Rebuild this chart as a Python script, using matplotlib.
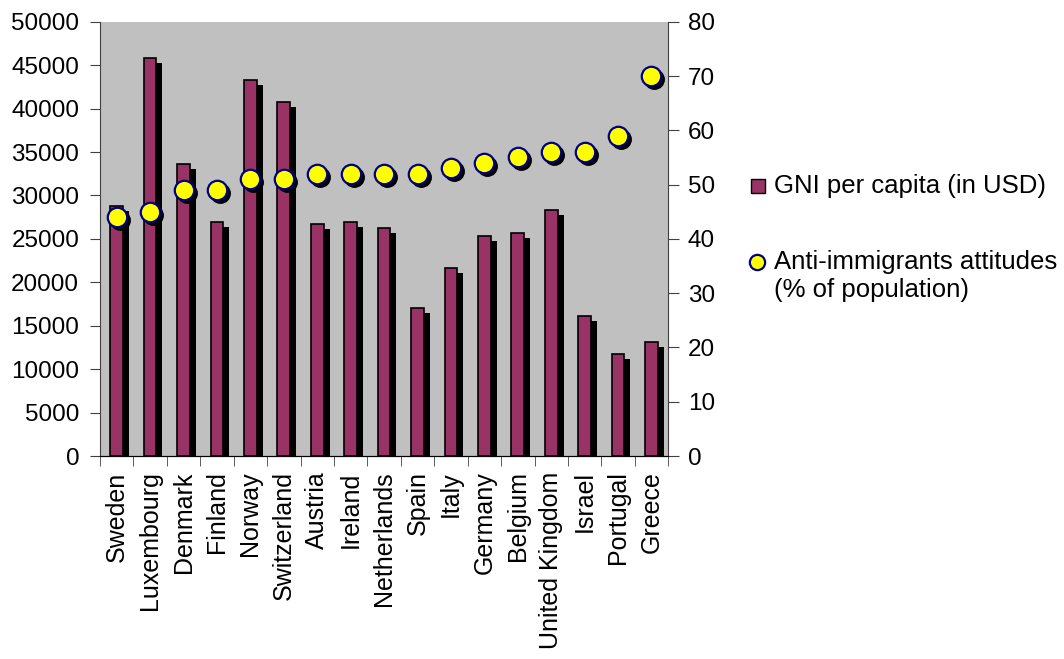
import matplotlib
matplotlib.use("Agg")
import matplotlib.pyplot as plt
import matplotlib.transforms as mtransforms
from matplotlib.lines import Line2D
import numpy as np

plt.rcParams["font.family"] = ["Liberation Sans", "DejaVu Sans"]

countries = ["Sweden", "Luxembourg", "Denmark", "Finland", "Norway", "Switzerland",
             "Austria", "Ireland", "Netherlands", "Spain", "Italy", "Germany",
             "Belgium", "United Kingdom", "Israel", "Portugal", "Greece"]
gni = [28800, 45800, 33600, 26900, 43300, 40800, 26700, 26900, 26200,
       17000, 21600, 25300, 25700, 28300, 16100, 11800, 13100]
attitudes = [44, 45, 49, 49, 51, 51, 52, 52, 52, 52, 53, 54, 55, 56, 56, 59, 70]
gni_ticks = np.arange(0, 50001, 5000)
pct_ticks = np.arange(0, 81, 10)

x = np.arange(len(countries))

BAR = "#993366"
BG = "#C0C0C0"
DOT = "#FFFF00"
DOT_EDGE = "#000080"
FS = 17.5

W, H = 1064, 659
fig = plt.figure(figsize=(W / 100, H / 100), dpi=100)
ax = fig.add_axes([0.094, 0.308, 0.534, 0.659])
ax.set_facecolor(BG)

# bars with a hard black drop shadow
shadow = ax.transData + mtransforms.ScaledTranslation(6 / 100, -5 / 100, fig.dpi_scale_trans)
ax.bar(x, gni, width=0.38, color="black", transform=shadow, zorder=1)
ax.bar(x, gni, width=0.38, color=BAR, edgecolor="black", linewidth=1.2, zorder=2)

ax.set_xlim(-0.5, len(countries) - 0.5)
ax.set_ylim(0, gni_ticks[-1])
ax.set_yticks(gni_ticks)
ax.set_xticks(x)
ax.set_xticklabels(countries, rotation=90, fontsize=18)
ax.set_xticks(np.arange(-0.5, len(countries)), minor=True)
ax.tick_params(axis="x", which="major", length=0, pad=11)
ax.tick_params(axis="x", which="minor", length=7, direction="out", color="#404040")
ax.tick_params(axis="y", labelsize=FS, length=7, pad=8, direction="out", color="#404040")
ax.spines["top"].set_visible(False)
ax.spines["right"].set_visible(False)
ax.spines["left"].set_color("#404040")
ax.spines["bottom"].set_color("black")

ax2 = ax.twinx()
ax2.set_ylim(0, pct_ticks[-1])
ax2.set_yticks(pct_ticks)
ax2.tick_params(axis="y", labelsize=FS, length=8, pad=6, direction="out", color="#404040")
ax2.spines["top"].set_visible(False)
ax2.spines["left"].set_visible(False)
ax2.spines["right"].set_color("#404040")

dot_shadow = ax2.transData + mtransforms.ScaledTranslation(3 / 100, -3 / 100, fig.dpi_scale_trans)
ax2.plot(x, attitudes, "o", ms=14, color="black", mec="black", transform=dot_shadow, zorder=3)
ax2.plot(x, attitudes, "o", ms=14, color=DOT, mec=DOT_EDGE, mew=1.6, zorder=4)

# hand-placed legend (pixel positions from the top-left corner)
def fx(px):
    return px / W

def fy(py):
    return 1 - py / H

fig.add_artist(Line2D([fx(758)], [fy(186)], ls="none", marker="s", ms=10,
                      mfc=BAR, mec="black", mew=1.0))
fig.text(fx(774), fy(186), "GNI per capita (in USD)", fontsize=18.5, va="center")
fig.add_artist(Line2D([fx(757)], [fy(262)], ls="none", marker="o", ms=11,
                      mfc=DOT, mec=DOT_EDGE, mew=1.6))
fig.text(fx(774), fy(262), "Anti-immigrants attitudes", fontsize=18.5, va="center")
fig.text(fx(774), fy(290), "(% of population)", fontsize=18.5, va="center")

fig.savefig("out.png", dpi=100)
